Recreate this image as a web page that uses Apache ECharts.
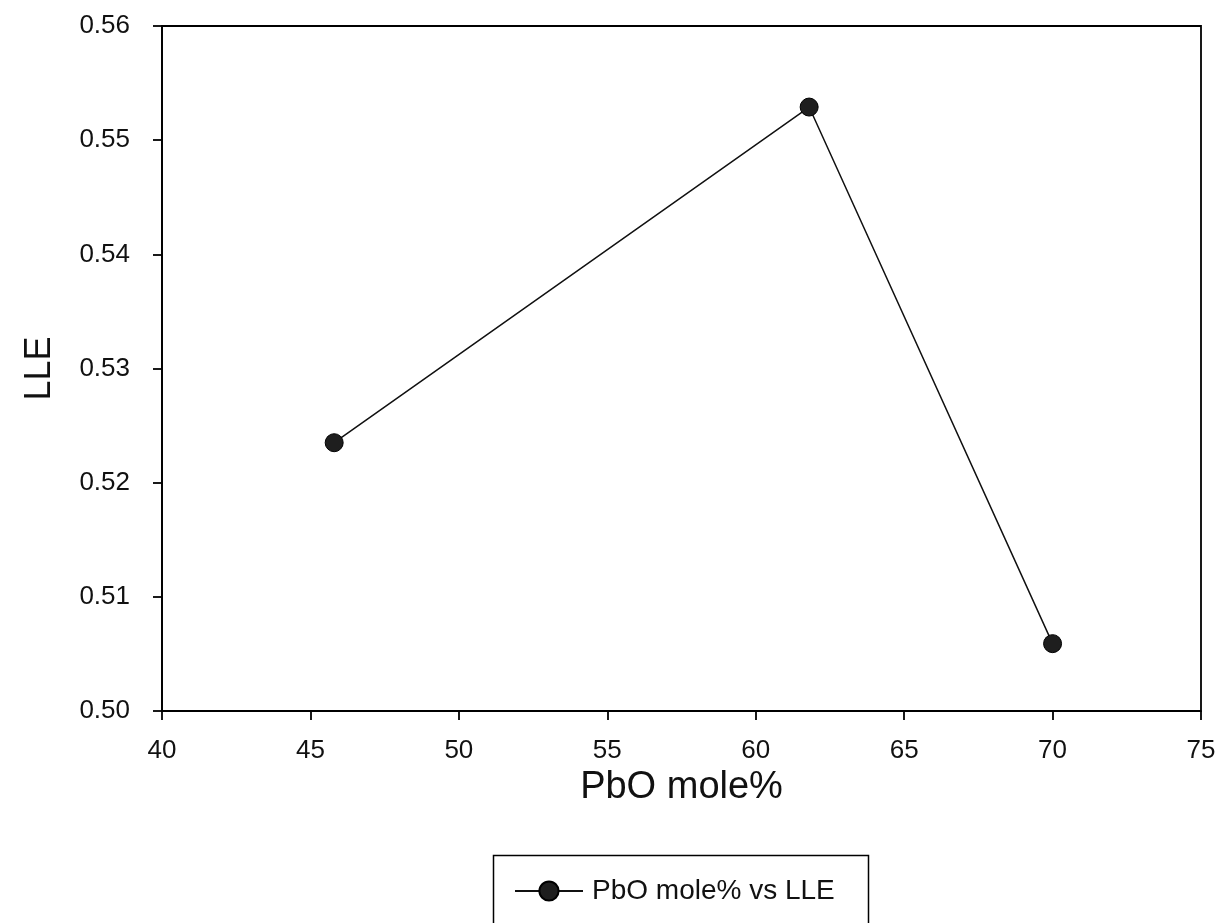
<!DOCTYPE html>
<html>
<head>
<meta charset="utf-8">
<script src="https://cdn.jsdelivr.net/npm/echarts@6/dist/echarts.min.js"></script>
<style>html,body{margin:0;padding:0;background:#fff;}#c{width:1224px;height:923px;}</style>
</head>
<body>
<div id="c"></div>
<script>
const seriesName = 'PbO mole% vs LLE';
const pbo = [45.8, 61.8, 70.0];
const lle = [0.5235, 0.5529, 0.5059];
const xTitle = 'PbO mole%';
const yTitle = 'LLE';

const chart = echarts.init(document.getElementById('c'), null, {renderer: 'canvas'});
const font = '"Liberation Sans", Arial, sans-serif';
chart.setOption({
  animation: false,
  backgroundColor: '#fff',
  grid: {left: 162, right: 23, top: 26, bottom: 212, show: true, borderColor: '#000', borderWidth: 1.8, backgroundColor: 'transparent'},
  xAxis: {
    type: 'value', min: 40, max: 75, interval: 5,
    name: xTitle, nameLocation: 'middle', nameGap: 57,
    nameTextStyle: {fontFamily: font, fontSize: 38, color: '#111'},
    axisLine: {show: true, onZero: false, lineStyle: {color: '#000', width: 1.8}},
    axisTick: {show: true, length: 9, lineStyle: {color: '#000', width: 1.8}},
    axisLabel: {fontFamily: font, fontSize: 26, color: '#111', margin: 27},
    splitLine: {show: false}
  },
  yAxis: {
    type: 'value', min: 0.5, max: 0.56, interval: 0.01,
    name: yTitle, nameLocation: 'middle', nameGap: 104, nameRotate: 90,
    nameTextStyle: {fontFamily: font, fontSize: 36, color: '#111'},
    axisLine: {show: true, onZero: false, lineStyle: {color: '#000', width: 1.8}},
    axisTick: {show: true, length: 9, lineStyle: {color: '#000', width: 1.8}},
    axisLabel: {fontFamily: font, fontSize: 26, color: '#111', margin: 32, formatter: v => v.toFixed(2)},
    splitLine: {show: false}
  },
  legend: {
    left: 509, top: 872,
    itemWidth: 68, itemHeight: 24, itemGap: 10,
    textStyle: {fontFamily: font, fontSize: 28, color: '#111', padding: [0, 0, 0, 4]},
    data: [seriesName]
  },
  graphic: [{
    type: 'rect', left: 491, top: 853,
    shape: {width: 375, height: 90},
    style: {fill: 'none', stroke: '#000', lineWidth: 1.5},
    silent: true
  }],
  series: [{
    name: seriesName, type: 'line',
    data: pbo.map((x, i) => [x, lle[i]]),
    symbol: 'circle', symbolSize: 18,
    itemStyle: {color: '#1e1e1e', borderColor: '#000', borderWidth: 1},
    lineStyle: {color: '#111', width: 1.5}
  }]
});
</script>
</body>
</html>
